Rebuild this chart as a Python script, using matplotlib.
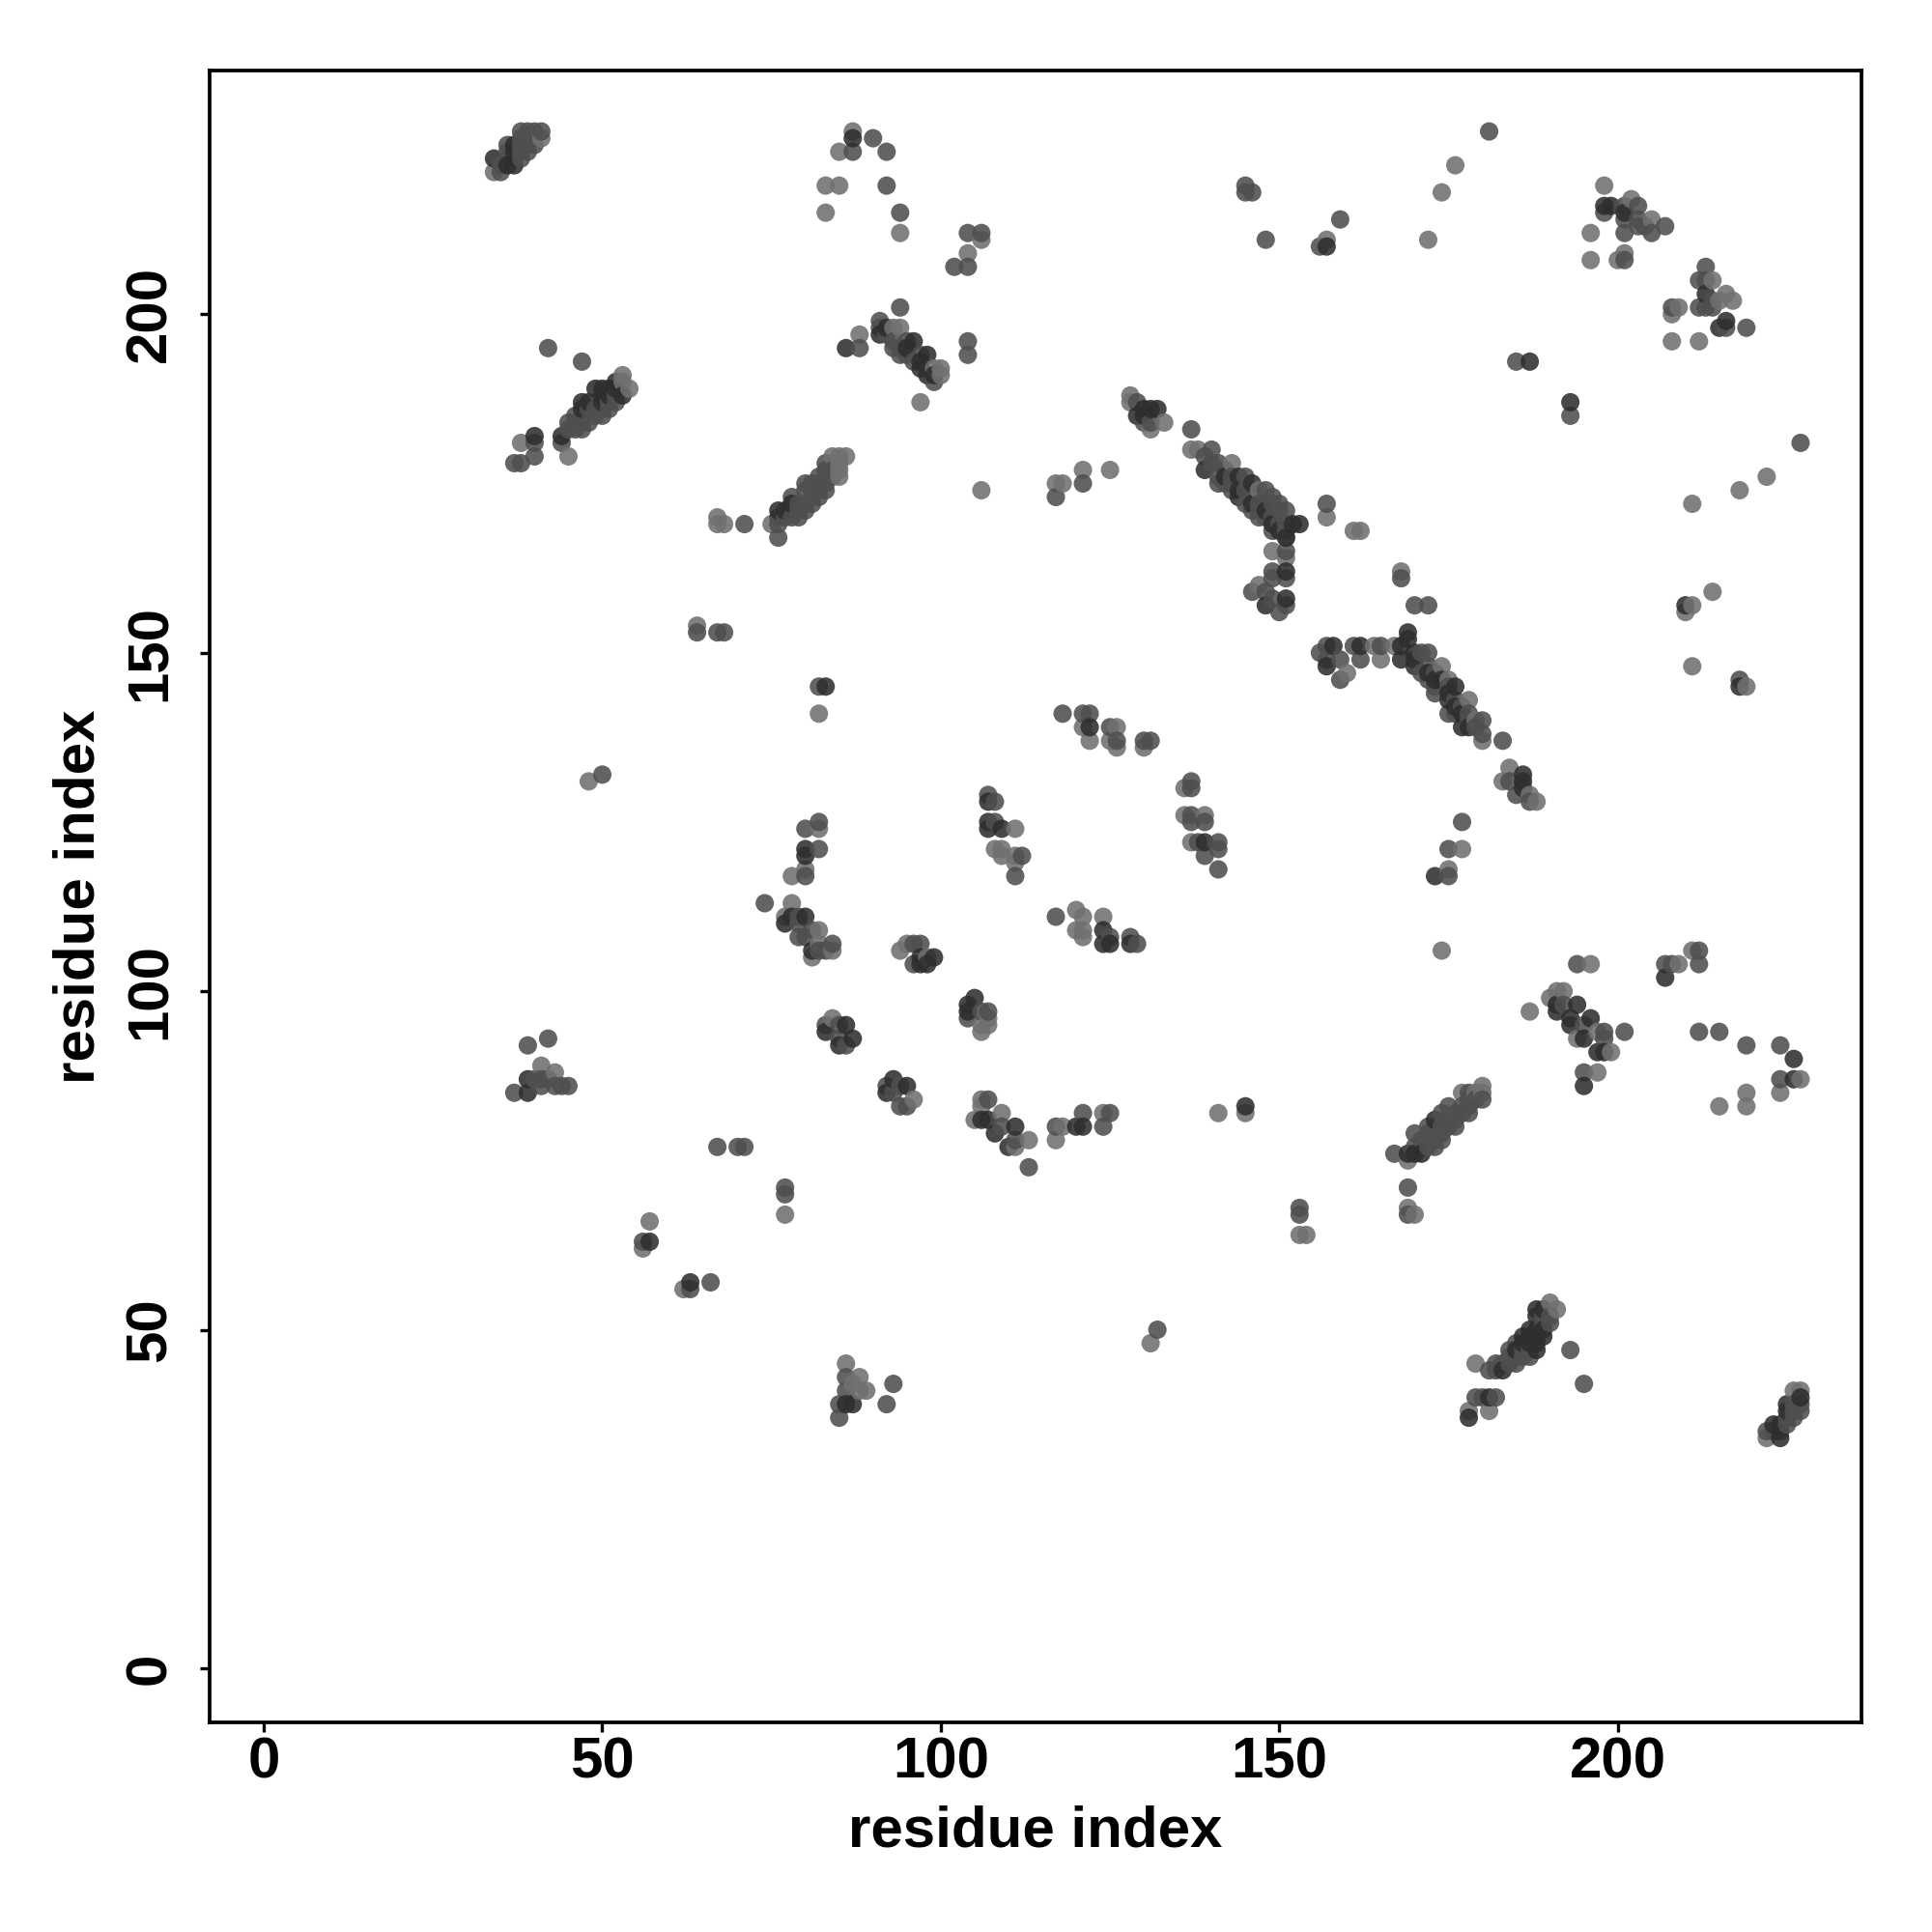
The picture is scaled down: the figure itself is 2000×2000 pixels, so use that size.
import numpy as np
import matplotlib
matplotlib.use("Agg")
import matplotlib.pyplot as plt

# contacts, grouped by how dark the dot looks: (residue i, residue j)
light = [(34,221),(41,226),(87,227),(85,224),(83,219),(85,219),(83,215),(94,212),(106,211),(104,209),(88,197),(93,198),(94,198),(99,192),(100,191),(100,192),(97,187),
(38,181),(45,179),(53,190),(54,189),(53,191),(67,170),(67,169),(68,169),(75,169),(84,179),(85,179),(85,177),(85,176),(86,179),(85,178),
(128,188),(128,187),(131,183),(133,184),(137,180),(138,180),(143,178),(147,174),(151,167),(149,165),(151,164),(147,160),(157,170),(161,168),(162,168),(168,162),
(160,147),(165,149),(164,151),(167,151),(174,148),(175,146),(178,143),(179,140),(180,137),(184,133),(183,131),(187,129),(188,128),(177,121),(121,177),(118,175),(117,175),(125,177),
(121,139),(122,137),(126,139),(125,137),(126,136),(130,136),(136,130),(136,126),(139,126),(137,122),(82,124),(78,117),(80,118),(78,113),(77,111),(82,109),(84,106),(81,105),(82,107),
(94,106),(95,107),(98,105),(111,124),(108,121),(109,121),(109,120),(111,120),(111,119),(120,112),(121,111),(120,109),(121,108),(121,109),(124,111),
(107,96),(107,95),(106,94),(106,95),(84,96),(96,84),(106,84),(106,83),(105,81),(109,82),(111,77),(113,78),(118,80),(117,78),(124,82),(77,67),
(174,106),(196,104),(209,104),(211,106),(187,97),(190,99),(191,100),(192,100),(194,93),(197,94),(199,91),(197,88),(227,87),(224,85),(219,85),(219,83),(215,83),
(169,75),(177,85),(179,85),(180,86),(180,85),(169,68),(170,67),(179,45),(190,54),(191,53),(181,38),(178,38),(222,34),(227,41),(226,41),
(41,89),(43,88),(48,131),(64,154),(82,141),(57,66),(56,62),(62,56),(86,45),(88,43),(87,42),(88,41),(89,41),(131,48),(141,82),(145,82),(153,64),(154,64),(175,118),
(157,211),(172,211),(174,218),(176,222),(222,176),(218,174),(211,172),(214,159),(210,156),(211,157),(211,148),(219,145),(106,174),
(198,219),(196,212),(196,208),(200,208),(201,209),(202,217),(205,214),(209,201),(208,200),(208,196),(212,196),(214,205),(215,202),(216,203),(217,202)]

mid = [(35,221),(35,222),(36,223),(38,223),(38,224),(39,224),(39,227),(40,227),(41,227),(39,225),(40,225),(38,226),(36,225),(38,227),(36,224),(38,225),(87,224),(90,226),(92,224),(92,219),(94,215),(104,212),(106,212),(104,207),(102,207),
(88,195),(94,201),(91,199),(91,198),(92,197),(93,196),(93,195),(94,194),(94,195),(95,196),(95,194),(96,193),(97,194),(99,190),(104,196),(104,194),
(42,195),(47,193),(37,178),(38,178),(40,181),(40,179),(44,181),(45,183),(45,184),(46,183),(46,185),(46,184),(47,184),(48,184),(48,186),(49,185),(49,186),(50,186),(51,187),(52,188),(50,185),(51,186),(52,187),(47,183),
(71,169),(76,167),(76,170),(76,169),(77,170),(78,170),(78,173),(79,171),(79,172),(80,174),(80,172),(81,173),(81,175),(81,172),(82,175),(82,174),(82,176),(83,177),(83,174),(83,175),(84,176),(84,177),(79,170),(80,171),(82,173),(80,175),(83,178),
(129,187),(130,184),(131,184),(137,183),(140,180),(139,179),(140,178),(141,178),(141,176),(141,175),(142,177),(142,175),(143,176),(143,175),(145,176),(145,174),(145,172),(146,173),(146,174),(147,172),(147,171),(148,174),(148,172),(148,170),(149,173),(149,172),(149,170),(150,171),(150,172),(150,169),(151,171),(151,169),(151,168),(151,165),(149,162),(149,161),(151,161),(146,159),(148,159),(149,158),(150,156),(151,157),(147,170),(146,171),(143,174),(149,168),
(157,172),(168,161),(170,157),(172,157),(156,150),(157,151),(157,149),(159,146),(159,149),(161,151),(162,149),(165,151),(171,150),(171,147),(172,150),(172,148),(172,146),(173,147),(173,145),(173,144),(175,145),(176,143),(176,141),(175,141),(178,141),(178,140),(177,142),(179,139),(180,140),(180,138),(183,137),(184,131),(185,129),(187,128),(177,125),(175,121),
(121,175),(117,173),(118,141),(121,141),(122,141),(125,139),(126,137),(130,137),(131,137),(137,131),(137,130),(137,126),(137,125),(139,125),(138,122),(141,122),(141,121),(141,118),(139,120),
(80,124),(82,125),(82,121),(80,117),(74,113),(79,110),(79,111),(79,108),(80,108),(81,109),(82,106),(83,106),(84,107),(96,107),(97,107),(96,104),(107,129),(108,128),(108,125),(112,120),(111,117),
(117,111),(125,108),(128,108),(129,107),(104,96),(106,97),(107,97),(83,95),(85,95),(85,93),(86,92),(92,86),(93,85),(94,86),(94,83),(95,83),(107,84),(109,80),(111,78),(113,74),(117,80),(121,82),(125,82),(124,80),
(67,77),(70,77),(71,77),(77,71),(77,70),(194,104),(207,104),(208,104),(212,106),(212,104),(192,98),(195,95),(198,94),(198,93),(201,94),(212,94),(215,94),(219,92),(224,92),(224,87),(195,88),
(167,76),(170,79),(170,77),(171,78),(172,77),(172,79),(172,80),(173,78),(174,79),(174,80),(174,82),(175,80),(175,81),(175,83),(176,82),(176,81),(177,83),(177,82),(178,84),(178,85),(178,83),(179,84),(180,84),(173,77),(174,78),(176,80),(178,82),(169,71),(169,67),
(181,44),(182,44),(182,45),(183,45),(184,47),(184,46),(184,45),(185,48),(185,46),(185,45),(186,47),(186,46),(187,47),(187,46),(189,52),(189,51),(190,52),(190,51),(179,40),(180,40),(182,40),(193,47),(195,42),
(222,35),(223,35),(225,36),(225,37),(226,37),(226,38),(226,39),(227,39),(227,38),(37,85),(39,92),(42,93),(40,87),(41,87),(41,86),(42,87),(43,86),(44,86),(45,86),
(50,132),(64,153),(67,153),(68,153),(82,145),(56,63),(63,56),(66,57),(85,39),(85,37),(86,41),(86,43),(92,39),(93,42),(132,50),(153,68),(153,67),(175,117),
(145,219),(145,218),(146,218),(148,211),(156,210),(159,214),(181,227),(185,193),(193,185),(227,181),(218,146),
(198,215),(201,212),(201,208),(201,214),(201,216),(203,216),(203,214),(203,213),(205,212),(204,213),(207,213),(208,201),(213,207),(212,205),(213,205),(212,201),(213,201),(214,201),(214,202),(216,198),(219,198)]

dark = [(34,223),(36,222),(37,222),(37,224),(37,225),(87,226),(86,195),(91,197),(92,198),(95,195),(96,196),(97,192),(97,193),(98,194),(98,191),(99,191),
(40,182),(44,182),(47,186),(47,187),(48,187),(49,189),(50,187),(50,188),(50,189),(51,188),(51,189),(52,189),(52,190),(53,188),(76,171),(77,171),(78,172),
(129,185),(130,186),(130,185),(131,186),(132,186),(139,177),(142,176),(144,176),(144,174),(144,173),(146,175),(146,172),(148,171),(149,169),(150,168),(151,167),(152,169),(153,169),(151,162),(148,157),(151,158),
(157,148),(158,151),(162,151),(168,149),(168,151),(169,153),(169,152),(170,150),(170,149),(170,148),(172,147),(173,146),(174,146),(175,144),(175,143),(176,145),(176,142),(177,141),(177,139),(178,139),(186,132),(186,131),(186,130),(122,139),(139,122),
(80,121),(80,120),(77,110),(78,111),(80,111),(81,106),(97,104),(98,104),(99,105),(97,105),(107,128),(107,125),(107,124),(109,124),
(124,109),(124,107),(125,107),(128,107),(105,99),(104,98),(104,97),(83,94),(86,95),(85,92),(87,93),(93,87),(92,85),(95,86),(106,81),(107,81),(108,79),(110,77),(111,80),(120,80),(121,80),
(207,102),(191,98),(191,97),(194,98),(193,95),(193,96),(196,96),(195,93),(197,91),(198,91),(195,86),(226,90),(226,87),
(169,76),(171,76),(170,76),(173,81),(185,47),(186,48),(187,48),(188,49),(189,49),(188,53),(188,52),(188,50),(188,48),(187,50),(187,49),(186,49),(183,44),(189,50),(189,53),(188,47),(178,37),(181,40),
(223,36),(224,34),(224,36),(224,35),(225,38),(225,39),(227,40),(39,87),(39,85),(83,145),(57,63),(63,57),(87,39),(86,39),(145,83),(173,117),
(157,210),(187,193),(193,187),(210,157),(218,145),(198,216),(199,216),(201,215),(213,203),(215,198),(216,199)]

shade_light = 0.44
shade_mid = 0.31
shade_dark = 0.18
dot_alpha = 0.88
tick_values = [0, 50, 100, 150, 200]
axis_title = "residue index"

plt.rcParams["font.family"] = ["Liberation Sans", "DejaVu Sans"]
plt.rcParams["font.weight"] = "bold"

fig = plt.figure(figsize=(10, 10), dpi=200, facecolor="white")
ax = fig.add_axes([217/2000, 1 - 1783/2000, (1927-217)/2000, (1783-73)/2000])

pts = np.array(light + mid + dark, dtype=float)
tones = np.array([shade_light]*len(light) + [shade_mid]*len(mid) + [shade_dark]*len(dark))
order = np.argsort(pts[:, 0], kind="stable")
cols = [(t, t, t, dot_alpha) for t in tones[order]]
ax.scatter(pts[order, 0], pts[order, 1], s=47, c=cols, linewidths=0, zorder=3)

ax.set_xlim(-8, 236)
ax.set_ylim(-8, 236)
ax.set_xticks(tick_values)
ax.set_yticks(tick_values)
ax.tick_params(axis="x", length=3.6, width=1.2, direction="out", labelsize=21.6, pad=1.5)
ax.tick_params(axis="y", length=3.6, width=1.2, direction="out", labelsize=21.6, pad=8.5)
for lab in ax.get_yticklabels():
    lab.set_rotation(90)
    lab.set_va("center")
for s in ax.spines.values():
    s.set_linewidth(1.35)

ax.set_xlabel(axis_title, fontsize=21.6, fontweight="bold")
ax.set_ylabel(axis_title, fontsize=21.6, fontweight="bold")
ax.xaxis.set_label_coords(0.5, -(1893-1783+22-46)/1710)
ax.yaxis.set_label_coords(-(217-80+22-52)/1710, 0.5)

fig.savefig("out.png", dpi=200)
